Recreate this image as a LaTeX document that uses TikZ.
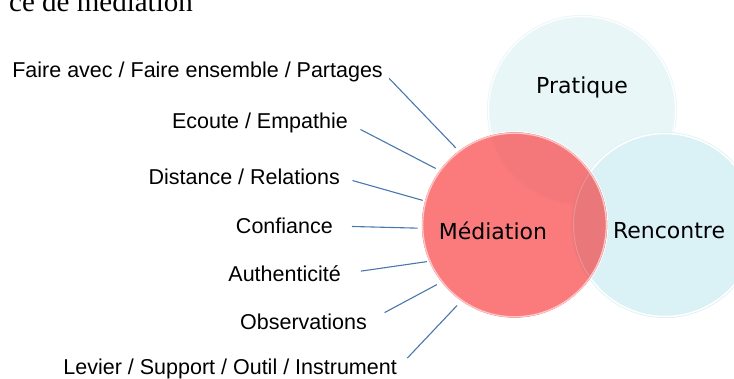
\documentclass[tikz,border=0pt]{standalone}
\usepackage{fontspec}
\setmainfont{Liberation Serif}
\newfontfamily\lbfont{Liberation Sans}
\newfontfamily\bubblefont{DejaVu Sans}
\definecolor{linkblue}{HTML}{4A78AE}
\definecolor{medred}{HTML}{FB7B7D}
\definecolor{medprat}{HTML}{F4787A}
\definecolor{medrenc}{HTML}{EA777A}
\definecolor{pratfill}{HTML}{E9F6F8}
\definecolor{rencfill}{HTML}{DAF1F6}
\definecolor{medrim}{HTML}{FBC9C9}
\tikzset{
  lbl/.style={font=\lbfont\fontsize{21.5}{24}\selectfont, anchor=east, inner sep=0pt},
  bubbletext/.style={font=\bubblefont\fontsize{22}{24}\selectfont, inner sep=0pt},
  conn/.style={draw=linkblue, line width=1.1pt},
  bubble/.style={circle, inner sep=0pt, outer sep=0pt, minimum size=#1},
}
\begin{document}
\begin{tikzpicture}[x=1pt, y=-1pt]
  \useasboundingbox (0,0) rectangle (734,379);
  \clip (0,0) rectangle (734,379);
  \fill[white] (0,0) rectangle (734,379);

  % caption line running off the top edge
  \node[anchor=base east, inner sep=0pt, font=\fontsize{29}{32}\selectfont] (caption) at (193,12) {ce de médiation};

  % the three bubbles
  \node[bubble=190pt, fill=pratfill] (prat) at (582,110) {};
  \draw[white, line width=1.2pt] (prat.center) circle[radius=93.5pt];
  \node[bubble=186pt, fill=rencfill] (renc) at (665,225) {};
  \draw[white, line width=1.5pt] (renc.center) circle[radius=91.5pt];
  \node[bubble=186pt, fill=medred] (med) at (514.5,225) {};
  \begin{scope}
    \clip (med.center) circle[radius=93pt];
    % soft-edged overlap with Pratique
    \fill[medprat, opacity=0.5] (prat.center) circle[radius=95.5pt];
    \fill[medprat] (prat.center) circle[radius=93.5pt];
    % overlap with Rencontre
    \fill[medrenc, opacity=0.5] (renc.center) circle[radius=94pt];
    \fill[medrenc] (renc.center) circle[radius=92.5pt];
    \draw[white, opacity=0.2, line width=1pt] (renc.center) circle[radius=91.5pt];
  \end{scope}
  \draw[medrim, line width=1.3pt] (med.center) circle[radius=91.8pt];
  \draw[white, line width=0.8pt] (med.center) circle[radius=93.3pt];

  \node[bubbletext] (tprat) at (582,87) {Pratique};
  \node[bubbletext] (tmed) at (493,231) {Médiation};
  \node[bubbletext] (trenc) at (669,231) {Rencontre};

  % surrounding labels
  \node[lbl] (l1) at (383,72) {Faire avec / Faire ensemble / Partages};
  \node[lbl] (l2) at (348,123) {Ecoute / Empathie};
  \node[lbl] (l3) at (340,177) {Distance / Relations};
  \node[lbl] (l4) at (333,226) {Confiance};
  \node[lbl] (l5) at (341,274) {Authenticité};
  \node[lbl] (l6) at (367,322) {Observations};
  \node[lbl] (l7) at (397,369) {Levier / Support / Outil / Instrument};

  % connectors from each label towards the Médiation bubble
  \draw[conn, shorten <=9pt, shorten >=4pt] (l1.east) -- (med.127);
  \draw[conn, shorten <=14pt, shorten >=4pt] (l2.east) -- (med.144);
  \draw[conn, shorten <=13pt, shorten >=2pt] (l3.east) -- (med.165);
  \draw[conn, shorten <=19pt, shorten >=4pt] (l4.east) -- (med.182);
  \draw[conn, shorten <=20pt, shorten >=2pt] (l5.east) -- (med.203);
  \draw[conn, shorten <=20pt, shorten >=5pt] (l6.east) -- (med.218);
  \draw[conn, shorten <=15pt, shorten >=6pt] (l7.east) -- (med.235);
\end{tikzpicture}
\end{document}
